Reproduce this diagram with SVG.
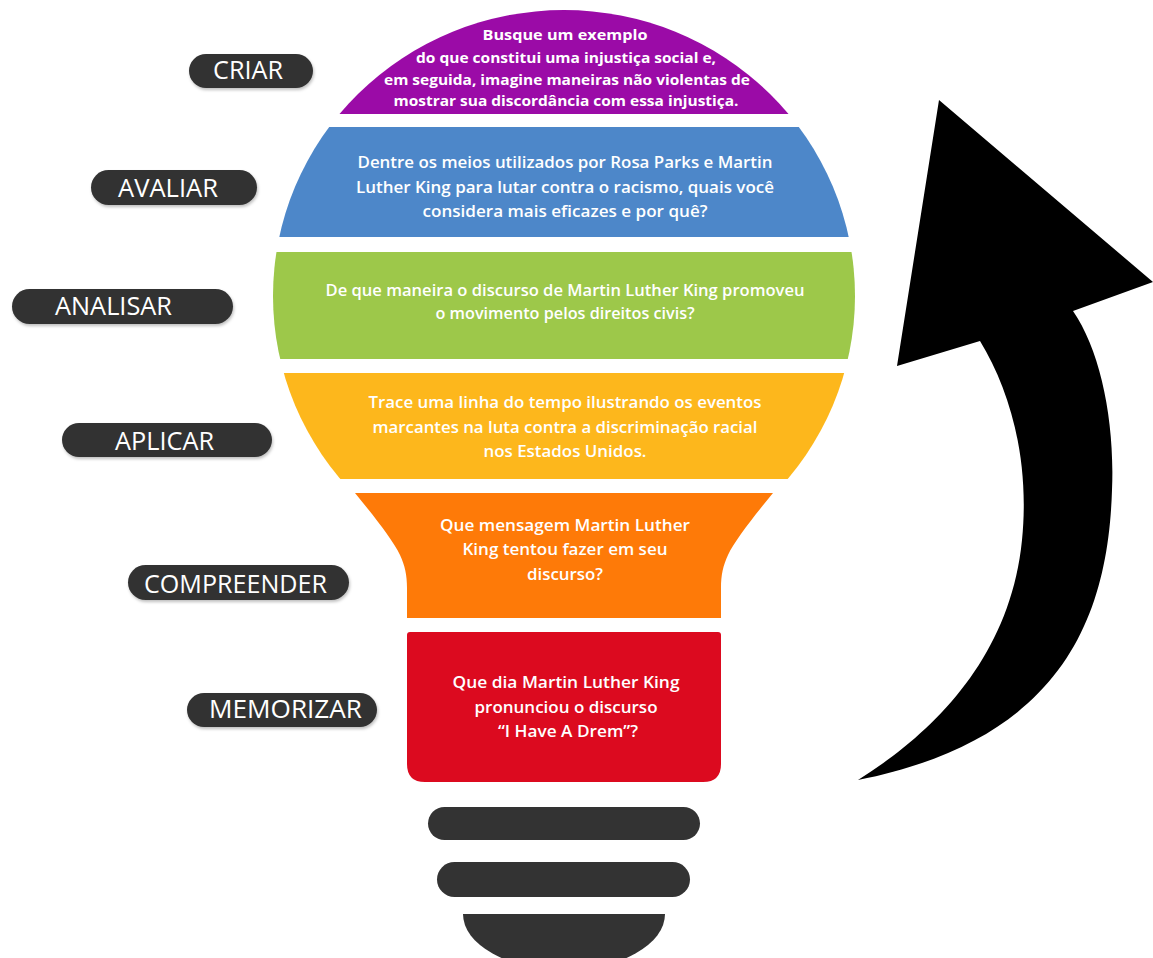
<svg xmlns="http://www.w3.org/2000/svg" width="1153" height="958" viewBox="0 0 1153 958">
<style>
.pill{fill:#333333;filter:url(#sh)}
.lbl{font-family:"Open Sans","Liberation Sans",sans-serif;font-size:25px;fill:#ffffff}
.body{font-family:"Open Sans","Liberation Sans",sans-serif;font-size:17px;font-weight:600;fill:#ffffff;text-anchor:middle}
.small{font-size:15px;font-weight:700}
.base{fill:#333333}
</style>
<defs>
<clipPath id="bulb"><ellipse cx="564" cy="296" rx="291" ry="286"/></clipPath>
<filter id="sh" x="-10%" y="-30%" width="120%" height="170%"><feDropShadow dx="1" dy="2" stdDeviation="1.5" flood-color="#000" flood-opacity="0.25"/></filter>
</defs>
<rect width="1153" height="958" fill="#ffffff"/>

<g id="bulb-purple">
<rect x="260" y="0" width="610" height="114" fill="#9b0ba7" clip-path="url(#bulb)"/>
<text class="body small" x="565" y="40" textLength="165" lengthAdjust="spacingAndGlyphs">Busque um exemplo</text>
<text class="body small" x="566" y="63" textLength="300" lengthAdjust="spacingAndGlyphs">do que constitui uma injustiça social e,</text>
<text class="body small" x="567" y="85" textLength="366" lengthAdjust="spacingAndGlyphs">em seguida, imagine maneiras não violentas de</text>
<text class="body small" x="566" y="106" textLength="345" lengthAdjust="spacingAndGlyphs">mostrar sua discordância com essa injustiça.</text>
</g>

<g id="bulb-blue">
<rect x="260" y="127" width="610" height="110" fill="#4d87c9" clip-path="url(#bulb)"/>
<text class="body" x="565" y="168" textLength="415" lengthAdjust="spacingAndGlyphs">Dentre os meios utilizados por Rosa Parks e Martin</text>
<text class="body" x="565" y="193" textLength="418" lengthAdjust="spacingAndGlyphs">Luther King para lutar contra o racismo, quais você</text>
<text class="body" x="565" y="217" textLength="285" lengthAdjust="spacingAndGlyphs">considera mais eficazes e por quê?</text>
</g>

<g id="bulb-green">
<rect x="260" y="252" width="610" height="107" fill="#9dc84a" clip-path="url(#bulb)"/>
<text class="body" x="565" y="296" textLength="479" lengthAdjust="spacingAndGlyphs">De que maneira o discurso de Martin Luther King promoveu</text>
<text class="body" x="565" y="319" textLength="259" lengthAdjust="spacingAndGlyphs">o movimento pelos direitos civis?</text>
</g>

<g id="bulb-yellow">
<rect x="260" y="373" width="610" height="106" fill="#fdb71c" clip-path="url(#bulb)"/>
<text class="body" x="565" y="408" textLength="393" lengthAdjust="spacingAndGlyphs">Trace uma linha do tempo ilustrando os eventos</text>
<text class="body" x="565" y="433" textLength="385" lengthAdjust="spacingAndGlyphs">marcantes na luta contra a discriminação racial</text>
<text class="body" x="565" y="457" textLength="163" lengthAdjust="spacingAndGlyphs">nos Estados Unidos.</text>
</g>

<g id="bulb-orange">
<path d="M355,493 L773,493 C755,515 735,540 728,555 C723,566 721,575 721,588 L721,618 L407,618 L407,588 C407,575 405,566 400,555 C393,540 373,515 355,493 Z" fill="#fe7a08"/>
<text class="body" x="565" y="531" textLength="250" lengthAdjust="spacingAndGlyphs">Que mensagem Martin Luther</text>
<text class="body" x="565" y="555" textLength="205" lengthAdjust="spacingAndGlyphs">King tentou fazer em seu</text>
<text class="body" x="565" y="580" textLength="76" lengthAdjust="spacingAndGlyphs">discurso?</text>
</g>

<g id="bulb-red">
<path d="M410,632 L718,632 Q721,632 721,635 L721,764 Q721,782 703,782 L425,782 Q407,782 407,764 L407,635 Q407,632 410,632 Z" fill="#dc0a1f"/>
<text class="body" x="566" y="688" textLength="227" lengthAdjust="spacingAndGlyphs">Que dia Martin Luther King</text>
<text class="body" x="566" y="713" textLength="183" lengthAdjust="spacingAndGlyphs">pronunciou o discurso</text>
<text class="body" x="568" y="737" textLength="140" lengthAdjust="spacingAndGlyphs">“I Have A Drem”?</text>
</g>

<g id="bulb-base">
<rect class="base" x="428" y="807" width="272" height="33" rx="16.5"/>
<rect class="base" x="437" y="862" width="253" height="35" rx="17.5"/>
<path class="base" d="M463,914 L665,914 A101,56 0 0 1 463,914 Z"/>
</g>

<g id="label-criar">
<rect class="pill" x="189" y="54" width="124" height="34" rx="17"/>
<text class="lbl" x="213" y="79" textLength="70" lengthAdjust="spacingAndGlyphs">CRIAR</text>
</g>
<g id="label-avaliar">
<rect class="pill" x="91" y="170" width="166" height="35" rx="17.5"/>
<text class="lbl" x="118" y="197" textLength="100" lengthAdjust="spacingAndGlyphs">AVALIAR</text>
</g>
<g id="label-analisar">
<rect class="pill" x="12" y="289" width="221" height="35" rx="17.5"/>
<text class="lbl" x="55" y="315" textLength="117" lengthAdjust="spacingAndGlyphs">ANALISAR</text>
</g>
<g id="label-aplicar">
<rect class="pill" x="62" y="423" width="210" height="34" rx="17"/>
<text class="lbl" x="115" y="450" textLength="99" lengthAdjust="spacingAndGlyphs">APLICAR</text>
</g>
<g id="label-compreender">
<rect class="pill" x="128" y="565" width="221" height="35" rx="17.5"/>
<text class="lbl" x="144" y="593" textLength="183" lengthAdjust="spacingAndGlyphs">COMPREENDER</text>
</g>
<g id="label-memorizar">
<rect class="pill" x="187" y="693" width="190" height="34" rx="17"/>
<text class="lbl" x="209" y="718" textLength="153" lengthAdjust="spacingAndGlyphs">MEMORIZAR</text>
</g>

<g id="connectors">
<path id="arrow" d="M897,366 L939,100 L1153,282 L1073,311 C1100,350 1115,420 1112,490 C1108,620 1060,740 858,780 C930,735 1010,660 1022,540 C1030,460 1010,390 980,341 Z" fill="#000000"/>
</g>
</svg>
